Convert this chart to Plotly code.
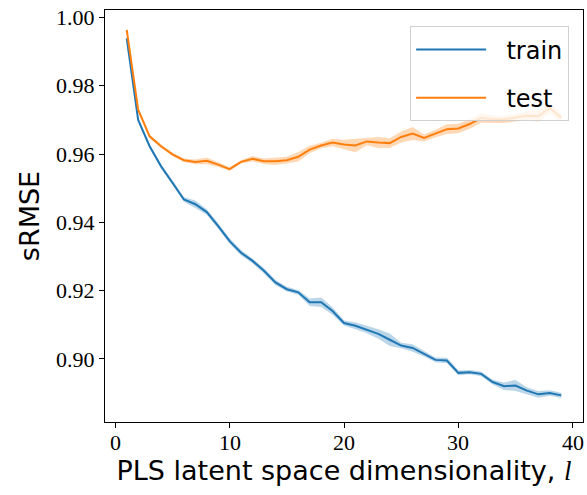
import plotly.graph_objects as go

dims = list(range(1, 40))
train_mean = [0.9939, 0.9700, 0.9623, 0.9564, 0.9516, 0.9467, 0.9453, 0.9430, 0.9389, 0.9345,
              0.9311, 0.9287, 0.9258, 0.9224, 0.9204, 0.9195, 0.9166, 0.9166, 0.9140, 0.9105,
              0.9097, 0.9086, 0.9073, 0.9056, 0.9039, 0.9032, 0.9015, 0.8997, 0.8995, 0.8959,
              0.8961, 0.8956, 0.8932, 0.8920, 0.8922, 0.8907, 0.8896, 0.8900, 0.8893]
train_std = [0.0004, 0.0004, 0.0006, 0.0007, 0.0007, 0.0007, 0.0011, 0.0008, 0.0008, 0.0008,
             0.0008, 0.0007, 0.0008, 0.0008, 0.0007, 0.0007, 0.0011, 0.0014, 0.0011, 0.0007,
             0.0010, 0.0011, 0.0014, 0.0018, 0.0008, 0.0011, 0.0008, 0.0007, 0.0008, 0.0007,
             0.0006, 0.0007, 0.0007, 0.0011, 0.0016, 0.0010, 0.0010, 0.0008, 0.0008]
test_mean = [0.9964, 0.9730, 0.9652, 0.9623, 0.9599, 0.9582, 0.9577, 0.9580, 0.9569, 0.9556,
             0.9577, 0.9586, 0.9579, 0.9579, 0.9582, 0.9592, 0.9613, 0.9625, 0.9634, 0.9628,
             0.9625, 0.9637, 0.9634, 0.9632, 0.9650, 0.9660, 0.9647, 0.9660, 0.9673, 0.9675,
             0.9688, 0.9706, 0.9702, 0.9702, 0.9706, 0.9712, 0.9711, 0.9735, 0.9706]
test_std = [0.0004, 0.0005, 0.0005, 0.0005, 0.0005, 0.0005, 0.0007, 0.0010, 0.0007, 0.0005,
            0.0005, 0.0008, 0.0008, 0.0011, 0.0010, 0.0014, 0.0011, 0.0008, 0.0011, 0.0014,
            0.0020, 0.0011, 0.0016, 0.0014, 0.0016, 0.0019, 0.0010, 0.0011, 0.0014, 0.0014,
            0.0014, 0.0014, 0.0011, 0.0011, 0.0011, 0.0014, 0.0016, 0.0016, 0.0011]
x_ticks = [0, 10, 20, 30, 40]
y_ticks = [0.90, 0.92, 0.94, 0.96, 0.98, 1.00]

series = [("train", train_mean, train_std, "#1f77b4", "rgba(31,119,180,0.3)"),
          ("test", test_mean, test_std, "#ff7f0e", "rgba(255,127,14,0.3)")]

SERIF = "Liberation Serif, DejaVu Serif, serif"
SANS = "DejaVu Sans, sans-serif"

fig = go.Figure()
for name, m, s, col, fcol in series:
    lo = [a - b for a, b in zip(m, s)]
    hi = [a + b for a, b in zip(m, s)]
    fig.add_trace(go.Scatter(x=dims, y=lo, mode="lines", line=dict(width=0),
                             showlegend=False, hoverinfo="skip"))
    fig.add_trace(go.Scatter(x=dims, y=hi, mode="lines", line=dict(width=0),
                             fill="tonexty", fillcolor=fcol, showlegend=False, hoverinfo="skip"))
for name, m, s, col, fcol in series:
    fig.add_trace(go.Scatter(x=dims, y=m, mode="lines", name="  " + name, legendgroup=name,
                             line=dict(color=col, width=2)))

axis_common = dict(showline=True, linecolor="black", linewidth=1.2, mirror=True,
                   ticks="outside", ticklen=5, tickwidth=1.2, tickcolor="black",
                   showgrid=False, zeroline=False, automargin=False,
                   tickfont=dict(family=SERIF, size=22, color="black"))

# x tick labels as annotations placed via the x data scale (so the end label "40" is kept)
for v in x_ticks:
    fig.add_annotation(x=v, y=0, xref="x", yref="paper", text=str(v), showarrow=False,
                       xanchor="center", yanchor="top", yshift=-6,
                       font=dict(family=SERIF, size=22, color="black"))

fig.update_layout(
    width=587, height=495,
    margin=dict(l=105, r=4, t=10, b=73),
    plot_bgcolor="white", paper_bgcolor="white",
    xaxis=dict(range=[-0.9, 40.9], tickvals=x_ticks, showticklabels=False,
               title=dict(text="PLS latent space dimensionality, "
                               "<span style=\"font-family:Liberation Serif\"><i>l</i></span>",
                          font=dict(family=SANS, size=27, color="black"),
                          standoff=33),
               **axis_common),
    yaxis=dict(range=[0.8815, 1.0022], tickvals=y_ticks, tickformat=".2f",
               title=dict(text="sRMSE", font=dict(family=SANS, size=27, color="black"),
                          standoff=8),
               **axis_common),
    legend=dict(x=0.971, y=0.96, xanchor="right", yanchor="top",
                bgcolor="rgba(255,255,255,0.8)", bordercolor="#d0d0d0", borderwidth=1,
                font=dict(family=SANS, size=24, color="black"),
                itemwidth=70, traceorder="grouped", tracegroupgap=14),
)

fig.write_html("out.html", config={"displayModeBar": False},
               post_script=("document.documentElement.style.overflow='hidden';"
                            "document.body.style.overflow='hidden';"
                            "document.body.style.margin='0';"))
